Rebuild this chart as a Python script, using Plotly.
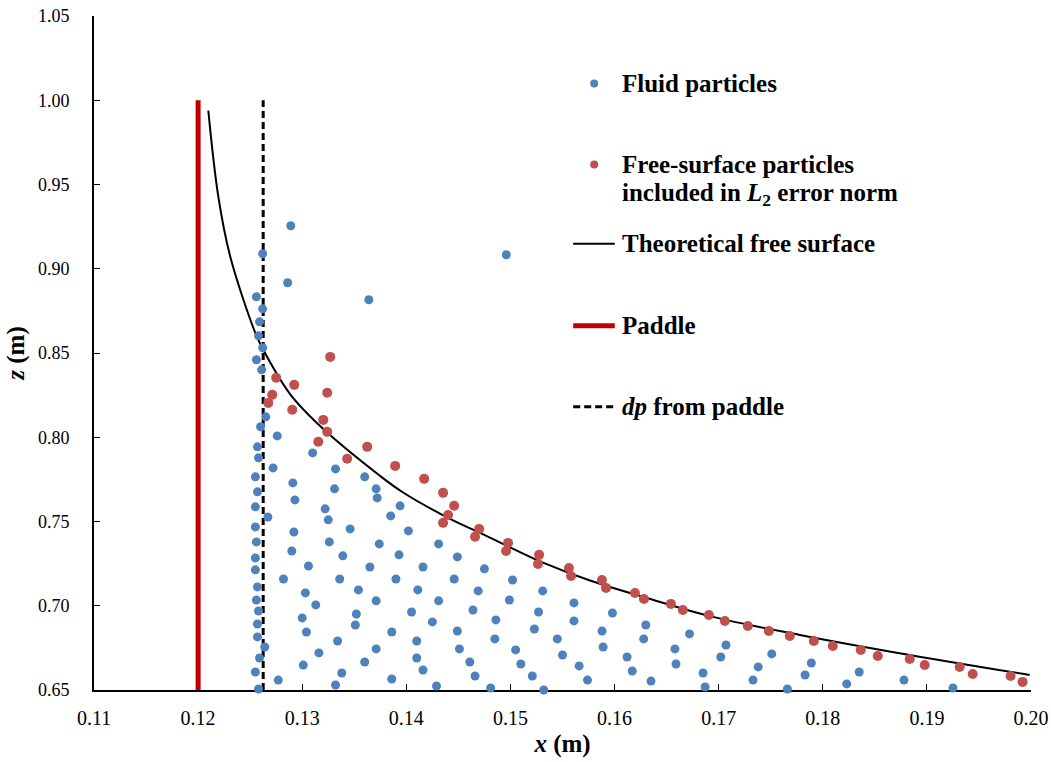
import plotly.graph_objects as go

# fluid particles (blue)
fluid_x = [0.1289, 0.1262, 0.1496, 0.1286, 0.1256, 0.1364, 0.1262, 0.1259, 0.1258, 0.1262,
           0.1256, 0.1261, 0.1265, 0.1260, 0.1276, 0.1257, 0.1310, 0.1258, 0.1272, 0.1332,
           0.1360, 0.1255, 0.1291, 0.1371, 0.1331, 0.1257, 0.1372, 0.1293, 0.1394, 0.1255,
           0.1322, 0.1385, 0.1267, 0.1325, 0.1255, 0.1346, 0.1402, 0.1292, 0.1256, 0.1326,
           0.1374, 0.1431, 0.1290, 0.1393, 0.1339, 0.1449, 0.1255, 0.1306, 0.1365, 0.1416,
           0.1475, 0.1255, 0.1282, 0.1336, 0.1390, 0.1446, 0.1502, 0.1257, 0.1354, 0.1411,
           0.1469, 0.1531, 0.1303, 0.1256, 0.1371, 0.1431, 0.1499, 0.1561, 0.1313, 0.1258,
           0.1405, 0.1464, 0.1527, 0.1598, 0.1352, 0.1300, 0.1425, 0.1486, 0.1561, 0.1257,
           0.1351, 0.1630, 0.1523, 0.1588, 0.1386, 0.1449, 0.1304, 0.1672, 0.1257, 0.1485,
           0.1545, 0.1628, 0.1334, 0.1410, 0.1707, 0.1264, 0.1589, 0.1371, 0.1451, 0.1658,
           0.1505, 0.1316, 0.1751, 0.1550, 0.1410, 0.1259, 0.1612, 0.1702, 0.1461, 0.1360,
           0.1789, 0.1510, 0.1659, 0.1301, 0.1566, 0.1738, 0.1416, 0.1617, 0.1255, 0.1835,
           0.1338, 0.1685, 0.1783, 0.1466, 0.1521, 0.1386, 0.1574, 0.1277, 0.1878, 0.1733,
           0.1635, 0.1823, 0.1332, 0.1429, 0.1687, 0.1481, 0.1925, 0.1532, 0.1258, 0.1766]
fluid_z = [0.9255, 0.9089, 0.9083, 0.8917, 0.8834, 0.8816, 0.8762, 0.8685, 0.8602, 0.8531,
           0.8460, 0.8400, 0.8121, 0.8062, 0.8008, 0.7943, 0.7907, 0.7878, 0.7818, 0.7812,
           0.7765, 0.7765, 0.7729, 0.7694, 0.7694, 0.7676, 0.7640, 0.7628, 0.7593, 0.7587,
           0.7575, 0.7533, 0.7527, 0.7510, 0.7468, 0.7456, 0.7444, 0.7438, 0.7379, 0.7379,
           0.7367, 0.7367, 0.7325, 0.7302, 0.7296, 0.7290, 0.7284, 0.7236, 0.7230, 0.7230,
           0.7219, 0.7213, 0.7159, 0.7159, 0.7159, 0.7159, 0.7153, 0.7112, 0.7094, 0.7094,
           0.7088, 0.7088, 0.7076, 0.7034, 0.7029, 0.7029, 0.7034, 0.7017, 0.7005, 0.6969,
           0.6963, 0.6975, 0.6963, 0.6957, 0.6951, 0.6928, 0.6904, 0.6916, 0.6910, 0.6892,
           0.6886, 0.6886, 0.6862, 0.6850, 0.6844, 0.6850, 0.6844, 0.6833, 0.6815, 0.6803,
           0.6803, 0.6803, 0.6791, 0.6791, 0.6767, 0.6755, 0.6755, 0.6744, 0.6744, 0.6744,
           0.6738, 0.6720, 0.6714, 0.6708, 0.6690, 0.6690, 0.6696, 0.6696, 0.6666, 0.6666,
           0.6660, 0.6654, 0.6654, 0.6648, 0.6643, 0.6637, 0.6619, 0.6613, 0.6607, 0.6607,
           0.6601, 0.6601, 0.6589, 0.6583, 0.6583, 0.6565, 0.6559, 0.6559, 0.6559, 0.6559,
           0.6553, 0.6536, 0.6530, 0.6524, 0.6518, 0.6512, 0.6512, 0.6500, 0.6506, 0.6506]

# free-surface particles used in L2 norm (red)
surf_x = [0.13269, 0.12750, 0.12923, 0.13240, 0.12712, 0.12674, 0.12904, 0.13202, 0.13240, 0.13154,
          0.13624, 0.13432, 0.13893, 0.14171, 0.14353, 0.14459, 0.14401, 0.14353, 0.14699, 0.14660,
          0.14977, 0.14958, 0.15275, 0.15265, 0.15562, 0.15582, 0.15879, 0.15918, 0.16196, 0.16282,
          0.16541, 0.16656, 0.16906, 0.17060, 0.17280, 0.17482, 0.17683, 0.17914, 0.18096, 0.18365,
          0.18528, 0.18835, 0.18979, 0.19315, 0.19440, 0.19804, 0.19919]
surf_z = [0.8477, 0.8353, 0.8311, 0.8264, 0.8252, 0.8204, 0.8163, 0.8103, 0.8032, 0.7973,
          0.7943, 0.7872, 0.7830, 0.7753, 0.7670, 0.7593, 0.7539, 0.7492, 0.7456, 0.7409,
          0.7373, 0.7325, 0.7302, 0.7248, 0.7224, 0.7177, 0.7153, 0.7106, 0.7076, 0.7040,
          0.7011, 0.6975, 0.6945, 0.6910, 0.6880, 0.6850, 0.6821, 0.6791, 0.6761, 0.6738,
          0.6702, 0.6684, 0.6648, 0.6637, 0.6595, 0.6583, 0.6548]

# theoretical free surface
theory_x = [0.12098, 0.12194, 0.12309, 0.12549, 0.12626, 0.12885, 0.13201, 0.13749, 0.13969, 0.14391,
            0.14708, 0.14996, 0.15313, 0.15764, 0.16311, 0.16944, 0.17779, 0.18835, 0.19987]
theory_z = [0.9938, 0.9428, 0.9071, 0.8620, 0.8519, 0.8255, 0.8050, 0.7770, 0.7672, 0.7525,
            0.7432, 0.7347, 0.7256, 0.7150, 0.7046, 0.6934, 0.6827, 0.6708, 0.6589]

paddle_x = [0.12, 0.12]
paddle_z = [0.65, 1.00]
dp_x = [0.12625, 0.12625]
dp_z = [0.65, 1.00]

FONT = "Liberation Serif"
BLUE = "#4F81BD"
RED = "#C0504D"

fig = go.Figure()
fig.add_trace(go.Scatter(x=paddle_x, y=paddle_z, mode="lines",
                         line=dict(color="#C00000", width=5), cliponaxis=False))
fig.add_trace(go.Scatter(x=dp_x, y=dp_z, mode="lines",
                         line=dict(color="black", width=3, dash="7px,4px"), cliponaxis=False))
fig.add_trace(go.Scatter(x=theory_x, y=theory_z, mode="lines",
                         line=dict(color="black", width=2, shape="spline", smoothing=1)))
fig.add_trace(go.Scatter(x=fluid_x, y=fluid_z, mode="markers", cliponaxis=False,
                         marker=dict(color=BLUE, size=9)))
fig.add_trace(go.Scatter(x=surf_x, y=surf_z, mode="markers", cliponaxis=False,
                         marker=dict(color=RED, size=10)))

# hand-made legend (paper coords)
mx, tx, lx0, lx1 = 0.5338, 0.5616, 0.5114, 0.5558
rows = [0.8998, 0.7795, 0.7350, 0.6622, 0.5405, 0.4202]
texts = ["Fluid particles", "Free-surface particles",
         "included in <i>L</i><sub>2</sub> error norm",
         "Theoretical free surface", "Paddle", "<i>dp</i> from paddle"]
for t, yy in zip(texts, rows):
    fig.add_annotation(x=tx, y=yy, xref="paper", yref="paper", text="<b>" + t + "</b>",
                       showarrow=False, xanchor="left", yanchor="middle",
                       font=dict(family=FONT, size=25, color="black"))
for yy, col in [(rows[0], BLUE), (rows[1], RED)]:
    fig.add_shape(type="circle", xref="paper", yref="paper", xsizemode="pixel", ysizemode="pixel",
                  xanchor=mx, yanchor=yy, x0=-4, x1=4, y0=-4, y1=4,
                  fillcolor=col, line=dict(width=0))
fig.add_shape(type="line", xref="paper", yref="paper", x0=lx0, x1=lx1, y0=rows[3], y1=rows[3],
              line=dict(color="black", width=2))
fig.add_shape(type="line", xref="paper", yref="paper", x0=lx0, x1=lx1, y0=rows[4], y1=rows[4],
              line=dict(color="#C00000", width=5))
fig.add_shape(type="line", xref="paper", yref="paper", x0=lx0, x1=lx1, y0=rows[5], y1=rows[5],
              line=dict(color="black", width=3, dash="7px,4px"))

fig.update_layout(
    width=1051, height=762,
    margin=dict(l=94, r=20, t=16, b=72),
    plot_bgcolor="white", paper_bgcolor="white",
    showlegend=False,
    font=dict(family=FONT, color="black"),
    xaxis=dict(range=[0.11, 0.20], tick0=0.11, dtick=0.01, tickformat=".2f",
               ticks="inside", ticklen=6, tickcolor="black", showline=True, linecolor="black",
               linewidth=2, showgrid=False, zeroline=False, layer="below traces",
               automargin=False, ticklabeloverflow="allow", tickfont=dict(size=20),
               ticklabelstandoff=9,
               title=dict(text="<b><i>x</i> (m)</b>", font=dict(size=25), standoff=6)),
    yaxis=dict(range=[0.65, 1.05], tick0=0.65, dtick=0.05, tickformat=".2f",
               ticks="inside", ticklen=6, tickcolor="black", showline=True, linecolor="black",
               linewidth=2, showgrid=False, zeroline=False, layer="below traces",
               automargin=False, ticklabeloverflow="allow", tickfont=dict(size=18),
               ticklabelstandoff=19,
               title=dict(text="<b><i>z</i> (m)</b>", font=dict(size=25), standoff=6)),
)

# drop the default page margin so the figure sits at the window's corner
fig.write_html("out.html", config={"displayModeBar": False},
               post_script="document.body.style.margin='0px';")
